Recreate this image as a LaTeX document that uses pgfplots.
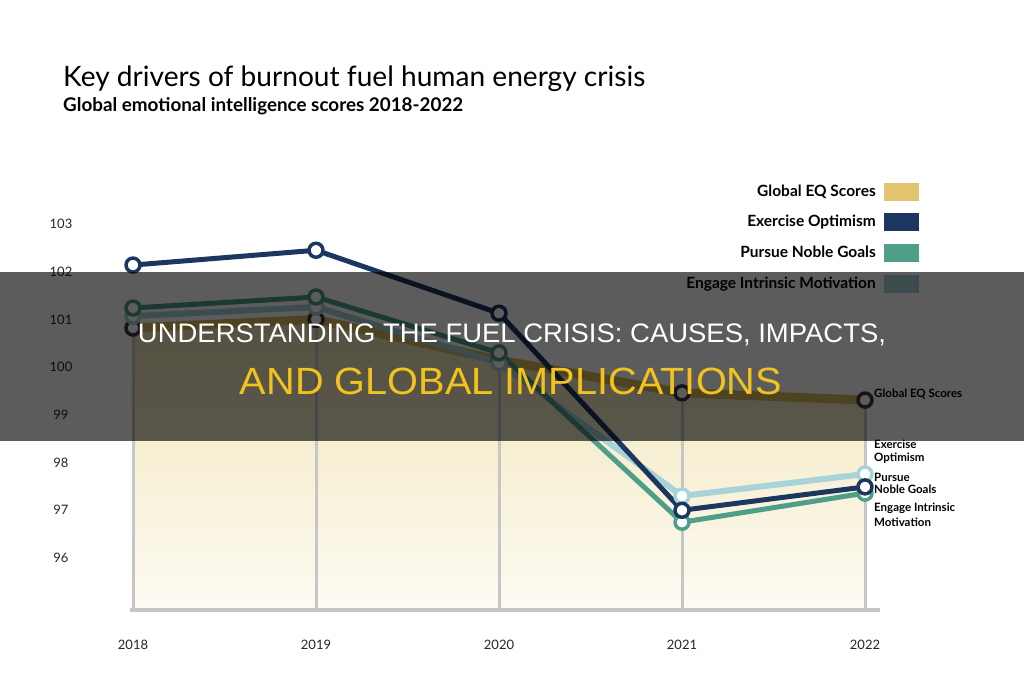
\documentclass[border=0pt]{standalone}
\usepackage{fontspec}
\setmainfont{Lato}
\newfontfamily\ovfont{Liberation Sans}
\usepackage{graphicx}
\usepackage{pgfplots}
\usepackage{pgfplotstable}
\pgfplotsset{compat=1.18}

\definecolor{navy}{HTML}{1B365F}
\definecolor{tealc}{HTML}{4E9E8A}
\definecolor{lightc}{HTML}{A8D3D9}
\definecolor{goldleg}{HTML}{E2C470}
\definecolor{goldband}{HTML}{D9BC5E}
\definecolor{eqtopc}{HTML}{F1E5B8}
\definecolor{eqbotc}{HTML}{FDFBF3}
\definecolor{gridgray}{HTML}{C6C6C6}
\definecolor{ovgold}{HTML}{F2C21E}
\definecolor{ringgray}{HTML}{3C3C3C}

\pgfplotstableread{
year eq opt noble intr
2018 100.82 102.14 101.24 101.07
2019 101.00 102.45 101.47 101.26
2020 100.15 101.13 100.30 100.09
2021 99.46 97.00 96.75 97.30
2022 99.31 97.49 97.36 97.76
}\datatable

\begin{document}
\begin{tikzpicture}[x=1pt,y=1pt]
\useasboundingbox (0,0) rectangle (1024,680);
\fill[white] (0,0) rectangle (1024,680);

% titles
\node[anchor=base west, inner sep=0] at (63,593) {\resizebox{582pt}{!}{\fontsize{24}{28}\selectfont Key drivers of burnout fuel human energy crisis}};
\node[anchor=base west, inner sep=0] at (63,568) {\resizebox{400pt}{!}{\fontsize{17}{20}\selectfont\bfseries Global emotional intelligence scores 2018-2022}};

\begin{axis}[
  at={(114.7pt,70pt)}, anchor=south west,
  scale only axis, width=768.6pt, height=400.3pt,
  xmin=2017.9, xmax=2022.1, ymin=94.91, ymax=103.3,
  axis line style={draw=none}, tick style={draw=none},
  xtick={2018,2019,2020,2021,2022},
  xticklabels={2018,2019,2020,2021,2022},
  ytick={96,97,98,99,100,101,102,103},
  /pgf/number format/assume math mode=true,
  ticklabel style={font=\fontsize{13}{15}\selectfont, text=black!85},
  yticklabel style={anchor=center, xshift=-53.7pt},
  xticklabel style={anchor=center, yshift=-35pt},
]
\addplot[top color=eqtopc, bottom color=eqbotc, draw=none] table[x=year,y=eq]{\datatable} -- (axis cs:2022,94.91) -- (axis cs:2018,94.91) -- cycle;
\addplot[ycomb, draw=gridgray, line width=3pt] table[x=year,y=eq]{\datatable};
\addplot[goldband, line width=9pt, line join=round] table[x=year,y=eq]{\datatable};
\addplot[only marks, mark=*, mark size=7pt, mark options={draw=ringgray, fill=white, line width=3.5pt}] table[x=year,y=eq]{\datatable};
\addplot[lightc, line width=6pt, line join=round, mark=*, mark size=7pt, mark options={draw=lightc, fill=white, line width=3.5pt}] table[x=year,y=intr]{\datatable};
\addplot[tealc, line width=5pt, line join=round, mark=*, mark size=7pt, mark options={draw=tealc, fill=white, line width=3.5pt}] table[x=year,y=noble]{\datatable};
\addplot[navy, line width=5pt, line join=round, mark=*, mark size=7pt, mark options={draw=navy, fill=white, line width=3.5pt}] table[x=year,y=opt]{\datatable};
\end{axis}

\draw[gridgray, line width=4pt] (130,70) -- (880,70);

% right-side labels
\begin{scope}[every node/.style={anchor=base west, inner sep=0, font=\fontsize{11.5}{13}\selectfont\bfseries}]
\node at (874,282) {Global EQ Scores};
\node at (874,231) {Exercise};
\node at (874,218) {Optimism};
\node at (874,199) {Pursue};
\node at (874,186) {Noble Goals};
\node at (874,168) {Engage Intrinsic};
\node at (874,154) {Motivation};
\end{scope}

% legend
\begin{scope}[every node/.style={anchor=base east, inner sep=0, font=\fontsize{15.5}{17}\selectfont\bfseries}]
\node at (876,483) {Global EQ Scores};
\node at (876,453) {Exercise Optimism};
\node at (876,422) {Pursue Noble Goals};
\node at (876,391) {Engage Intrinsic Motivation};
\end{scope}
\fill[goldleg] (884,479) rectangle (919,497);
\fill[navy] (884,449) rectangle (919,467);
\fill[tealc] (884,418) rectangle (919,436);
\fill[lightc] (884,387) rectangle (919,405);

% overlay band
\fill[black, opacity=0.64] (0,239) rectangle (1024,408);
\node[anchor=base, inner sep=0, text=white] at (512,337.3) {\resizebox{748pt}{18.7pt}{\ovfont UNDERSTANDING THE FUEL CRISIS: CAUSES, IMPACTS,}};
\node[anchor=base, inner sep=0, text=ovgold] at (511,285) {\resizebox{542pt}{26.5pt}{\ovfont AND GLOBAL IMPLICATIONS}};
\end{tikzpicture}
\end{document}
